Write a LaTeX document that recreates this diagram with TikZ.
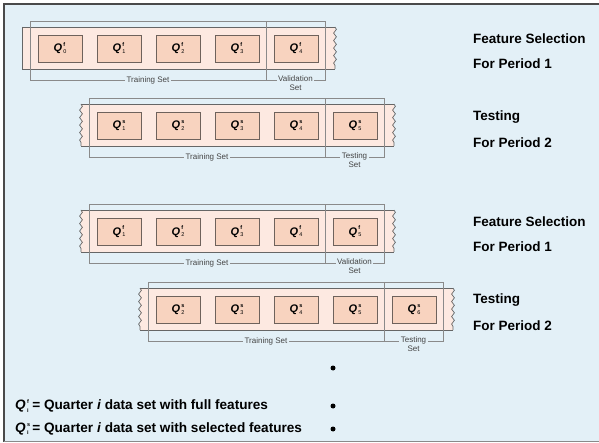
\documentclass[tikz,border=0pt]{standalone}
\usepackage{fontspec}
\setmainfont{Liberation Sans}
\usetikzlibrary{decorations.pathmorphing}

\definecolor{bgblue}{HTML}{E3F0F7}
\definecolor{framegray}{HTML}{4A4A4A}
\definecolor{stripfill}{HTML}{FDE9E1}
\definecolor{stripedge}{HTML}{666666}
\definecolor{boxfill}{HTML}{F8D3BF}
\definecolor{boxedge}{HTML}{6E625C}
\definecolor{brackgray}{HTML}{8A8A8A}
\definecolor{labgray}{HTML}{444444}

% Q label with stacked super- and subscript
\newcommand\qlab[3][11]{{\fontsize{#1}{#1}\selectfont\bfseries\itshape Q}\kern1.3pt%
  \raisebox{0.47\dimexpr#1pt\relax}{\rlap{\fontsize{5.5}{5.5}\selectfont\bfseries #2}}%
  \raisebox{-0.16\dimexpr#1pt\relax}{\fontsize{5.5}{5.5}\selectfont #3}}

\tikzset{
  qbox/.style={draw=boxedge, fill=boxfill, line width=0.8pt,
    minimum width=44pt, minimum height=27pt, inner sep=0pt},
  stripline/.style={draw=stripedge, line width=0.9pt},
  wavy/.style={draw=stripedge, line width=0.7pt,
    decorate, decoration={snake, segment length=7.5pt, amplitude=1.4pt}},
  brack/.style={draw=brackgray, line width=0.6pt},
  setlab/.style={font=\fontsize{8}{8.6}\selectfont, text=labgray,
    fill=bgblue, inner xsep=1.5pt, inner ysep=0.5pt, align=center},
  sidelab/.style={font=\fontsize{13.5}{13.5}\selectfont\bfseries, anchor=west, inner sep=0pt},
  legend/.style={font=\fontsize{13.6}{13.6}\selectfont\bfseries, anchor=west, inner sep=0pt},
  dot/.style={circle, fill=black, inner sep=0pt, minimum size=5pt},
}

% one row of quarters: #1 name, #2 x shift, #3 y of box centres,
% #4 feature letter, #5 first quarter, #6 last section, #7 1 = wavy left edge
\newcommand\datarow[7]{%
  \begin{scope}[shift={(#2,#3)}]
    \fill[stripfill] (22,-21.5) rectangle (335,20.5);
    \coordinate (#1sl) at (22,-21.5);  \coordinate (#1sr) at (335,-21.5);
    \coordinate (#1bl2) at (22,20.5);  \coordinate (#1br2) at (335,20.5);
    \draw[stripline] (#1sl) -- (#1sr);
    \draw[stripline] (#1bl2) -- (#1br2);
    \ifnum#7=1
      \draw[wavy] (#1sl) -- (#1bl2);
    \else
      \draw[stripline] (#1sl) -- (#1bl2);
    \fi
    \draw[wavy] (#1sr) -- (#1br2);
    \foreach \k in {0,...,4} {
      \pgfmathtruncatemacro\qi{#5+\k}
      \node[qbox] (#1q\k) at (60+59*\k,0) {\qlab{#4}{\qi}};
    }
    \coordinate (#1tl) at (30,-27);  \coordinate (#1tr) at (325,-27);
    \coordinate (#1bl) at (30,31.5); \coordinate (#1br) at (325,31.5);
    \coordinate (#1dt) at (266,-27); \coordinate (#1db) at (266,31.5);
    \draw[brack] (#1bl) -- (#1tl) -- (#1tr) -- (#1br) -- cycle;
    \draw[brack] (#1dt) -- (#1db);
    \node[setlab] (#1train) at (148,31.5) {Training Set};
    \node[setlab, anchor=north] (#1last) at (295.5,27) {#6\\Set};
  \end{scope}}

\begin{document}
\begin{tikzpicture}[x=1pt, y=-1pt]
  \useasboundingbox (0,0) rectangle (599,443);
  \fill[white] (0,0) rectangle (599,443);
  \fill[bgblue] (4,4) rectangle (599,441);
  \coordinate (fTL) at (4,4);
  \coordinate (fTR) at (599,4);
  \coordinate (fBL) at (4,441.5);
  \coordinate (fBR) at (599,441.5);
  \draw[framegray, line width=1.2pt] (fTR) -- (fTL) -- (fBL);
  \draw[brackgray, line width=1.5pt] (fBL) -- (fBR);

  \datarow{a}{0}{48.5}{f}{0}{Validation}{0}
  \datarow{b}{59}{125.5}{s}{1}{Testing}{1}
  \datarow{c}{59}{231.5}{f}{1}{Validation}{1}
  \datarow{d}{118}{309.5}{s}{2}{Testing}{1}

  \node[sidelab] (t1) at (473,39)  {Feature Selection};
  \node[sidelab] (t2) at (473,64)  {For Period 1};
  \node[sidelab] (t3) at (473,117) {Testing};
  \node[sidelab] (t4) at (473,143) {For Period 2};
  \node[sidelab] (t5) at (473,222) {Feature Selection};
  \node[sidelab] (t6) at (473,247) {For Period 1};
  \node[sidelab] (t7) at (473,300) {Testing};
  \node[sidelab] (t8) at (473,326) {For Period 2};

  \node[dot] (d1) at (333,368) {};
  \node[dot] (d2) at (333,406) {};
  \node[dot] (d3) at (333,429) {};

  \node[legend] (l1) at (15,406) {\qlab[13.6]{f}{i} = Quarter \textit{i} data set with full features};
  \node[legend] (l2) at (15,429) {\qlab[13.6]{s}{i} = Quarter \textit{i} data set with selected features};
\end{tikzpicture}
\end{document}
